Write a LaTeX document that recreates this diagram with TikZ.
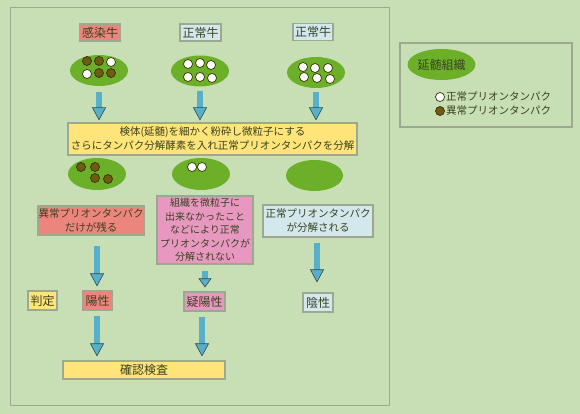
\documentclass[tikz,border=0pt]{standalone}
\usepackage{fontspec}
\setmainfont{Noto Sans CJK JP}
\usetikzlibrary{arrows.meta,shapes.geometric}
\definecolor{bg}{HTML}{C8DEB4}
\definecolor{frameg}{HTML}{9EA890}
\definecolor{leaf}{HTML}{6CB02A}
\definecolor{txt}{HTML}{3A4220}
\definecolor{redf}{HTML}{EC857C}
\definecolor{pinkf}{HTML}{E898C0}
\definecolor{bluef}{HTML}{D2E8EC}
\definecolor{yelf}{HTML}{FFE47A}
\definecolor{teal1}{HTML}{58B0C8}
\definecolor{tealdk}{HTML}{2E4A50}
\definecolor{brownd}{HTML}{6E5C12}
\definecolor{browno}{HTML}{3A3000}
\tikzset{
  box/.style={draw=frameg, line width=1.2pt, inner sep=0pt, text=txt, align=center, font=\fontsize{10.5}{14}\selectfont},
  lab/.style={box, font=\fontsize{12}{14}\selectfont},
  leafell/.style={ellipse, fill=leaf, inner sep=0pt, minimum width=58pt, minimum height=31pt},
  bdot/.style={circle, fill=brownd, draw=browno, line width=0.7pt, inner sep=0pt, minimum size=9pt},
  wdot/.style={circle, fill=white, draw=browno, line width=0.7pt, inner sep=0pt, minimum size=9pt},
  fatarrow/.style={draw=teal1, line width=6.5pt, -{Triangle[width=14pt,length=13pt,fill=teal1,color=tealdk,line width=0.6pt]}},
  smallarrow/.style={draw=teal1, line width=6pt, -{Triangle[width=13pt,length=9pt,fill=teal1,color=tealdk,line width=0.6pt]}}
}
\begin{document}
\begin{tikzpicture}[x=1pt,y=-1pt]
\fill[bg] (0,0) rectangle (580,414);
\useasboundingbox (0,0) rectangle (580,414);
% main panel frame
\draw[frameg, line width=1pt] (10,8) rectangle (389,405);
% legend frame
\draw[frameg, line width=1.2pt] (400,43) rectangle (572,127);

% top labels
\node[lab, fill=redf, minimum width=41pt, minimum height=17pt] (cow1) at (100,32.5) {感染牛};
\node[lab, fill=bluef, minimum width=41pt, minimum height=17pt] (cow2) at (200.5,32.5) {正常牛};
\node[lab, fill=bluef, minimum width=40pt, minimum height=17pt] (cow3) at (313,32) {正常牛};

% top ellipses
\node[leafell] (e1) at (99,70.5) {};
\node[leafell] (e2) at (200,71) {};
\node[leafell] (e3) at (316,72.5) {};
\node[bdot] (d11) at (87,61) {};
\node[bdot] (d12) at (99,61) {};
\node[wdot] (d13) at (111,62) {};
\node[wdot] (d14) at (87,74) {};
\node[bdot] (d15) at (99,73) {};
\node[bdot] (d16) at (111,73) {};
\node[wdot] (d21) at (188,64) {};
\node[wdot] (d22) at (200,63) {};
\node[wdot] (d23) at (211,65) {};
\node[wdot] (d24) at (188,77) {};
\node[wdot] (d25) at (200,77) {};
\node[wdot] (d26) at (212,78) {};
\node[wdot] (d31) at (303,67) {};
\node[wdot] (d32) at (315,68) {};
\node[wdot] (d33) at (328,68) {};
\node[wdot] (d34) at (304,77) {};
\node[wdot] (d35) at (317,78) {};
\node[wdot] (d36) at (330,79) {};

% yellow process box
\node[box, fill=yelf, minimum width=289pt, minimum height=32pt] (yb) at (212.5,139) {検体(延髄)を細かく粉砕し微粒子にする\\さらにタンパク分解酵素を入れ正常プリオンタンパクを分解};

% second ellipses
\node[leafell, minimum height=32pt] (f1) at (97,174) {};
\node[leafell, minimum height=32pt] (f2) at (201,174) {};
\node[leafell, minimum width=57pt] (f3) at (314.5,175.5) {};
\node[bdot] (g1) at (81,167) {};
\node[bdot] (g2) at (95,167) {};
\node[bdot] (g3) at (95,178) {};
\node[bdot] (g4) at (108,179) {};
\node[wdot] (g5) at (192,167) {};
\node[wdot] (g6) at (202,167) {};

% result boxes
\node[box, fill=redf, minimum width=106pt, minimum height=29pt] (r1) at (91,220.5) {異常プリオンタンパク\\だけが残る};
\node[box, fill=pinkf, minimum width=96pt, minimum height=68pt, font=\fontsize{10}{13.4}\selectfont] (r2) at (205,230) {組織を微粒子に\\出来なかったこと\\などにより正常\\プリオンタンパクが\\分解されない};
\node[box, fill=bluef, minimum width=110pt, minimum height=32pt] (r3) at (318,221) {正常プリオンタンパク\\が分解される};

% judgement labels
\node[lab, fill=yelf, minimum width=29pt, minimum height=19pt] (jd) at (42.5,300.5) {判定};
\node[lab, fill=redf, minimum width=29pt, minimum height=19pt] (p1) at (97.5,300.5) {陽性};
\node[lab, fill=pinkf, minimum width=41pt, minimum height=19pt] (p2) at (204.5,301.5) {疑陽性};
\node[lab, fill=bluef, minimum width=30pt, minimum height=19pt] (p3) at (318,302.5) {陰性};

% confirmation box
\node[box, fill=yelf, minimum width=162pt, minimum height=18pt, font=\fontsize{12}{14}\selectfont] (kk) at (144,370) {確認検査};

% arrows
\draw[fatarrow, shorten <=6pt, shorten >=2pt] (e1.south) -- (e1.south |- yb.north);
\draw[fatarrow, shorten <=4pt, shorten >=2pt] (e2.south) -- (e2.south |- yb.north);
\draw[fatarrow, shorten <=4pt, shorten >=2pt] (e3.south) -- (e3.south |- yb.north);
\draw[fatarrow, shorten <=10pt, shorten >=4pt] ([xshift=6pt]r1.south) -- ([xshift=6pt]r1.south |- p1.north);
\draw[smallarrow, shorten <=6pt, shorten >=4pt] (r2.south) -- (r2.south |- p2.north);
\draw[fatarrow, shorten <=5pt, shorten >=10pt] ([xshift=-1pt]r3.south) -- ([xshift=-1pt]r3.south |- p3.north);
\draw[fatarrow, shorten <=5pt, shorten >=4pt] ([xshift=-0.5pt]p1.south) -- ([xshift=-0.5pt]p1.south |- kk.north);
\draw[fatarrow, shorten <=5pt, shorten >=4pt] ([xshift=-2.5pt]p2.south) -- ([xshift=-2.5pt]p2.south |- kk.north);

% legend
\node[leafell, minimum width=63pt, minimum height=31pt, text=txt, font=\fontsize{12}{14}\selectfont] (le) at (441.5,64.5) {延髄組織};
\node[wdot] (lw) at (440,97) {};
\node[bdot] (lb) at (440,111) {};
\node[anchor=west, text=txt, inner sep=0pt, font=\fontsize{10.5}{14}\selectfont] (lwt) at (446,97) {正常プリオンタンパク};
\node[anchor=west, text=txt, inner sep=0pt, font=\fontsize{10.5}{14}\selectfont] (lbt) at (446,111) {異常プリオンタンパク};
\end{tikzpicture}
\end{document}
